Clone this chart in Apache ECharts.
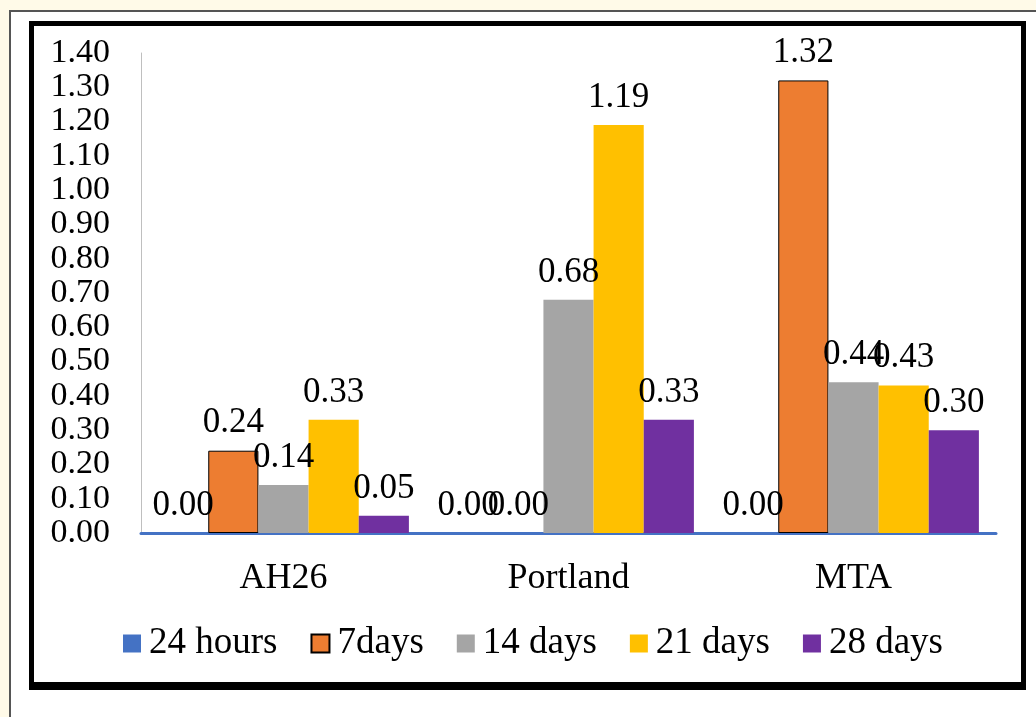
<!DOCTYPE html>
<html>
<head>
<meta charset="utf-8">
<script src="https://cdn.jsdelivr.net/npm/echarts@6/dist/echarts.min.js"></script>
<style>
html,body{margin:0;padding:0;background:#fffae8;}
#chart{width:1036px;height:717px;}
</style>
</head>
<body>
<div id="chart"></div>
<script>
const categories = ['AH26', 'Portland', 'MTA'];
const seriesNames = ['24 hours', '7days', '14 days', '21 days', '28 days'];
const hours24 = [0.00, 0.00, 0.00];
const days7 = [0.24, 0.00, 1.32];
const days14 = [0.14, 0.68, 0.44];
const days21 = [0.33, 1.19, 0.43];
const days28 = [0.05, 0.33, 0.30];
const yTicks = { min: 0, max: 1.4, interval: 0.1 };

const colors = ['#4472C4', '#ED7D31', '#A5A5A5', '#FFC000', '#7030A0'];
const values = [hours24, days7, days14, days21, days28];
const FONT = '"Liberation Serif", "Times New Roman", serif';

const chart = echarts.init(document.getElementById('chart'));
const series = seriesNames.map((name, i) => ({
  name: name,
  type: 'bar',
  data: i === 1
    ? values[i].map(v => ({ value: v, itemStyle: { borderWidth: v === 0 ? 0 : 1 } }))
    : values[i],
  barGap: '0%',
  barCategoryGap: '12%',
  itemStyle: i === 1 ? { color: colors[i], borderColor: '#000', borderWidth: 1 } : { color: colors[i] },
  label: {
    show: true,
    position: 'top',
    distance: 10,
    formatter: p => p.value.toFixed(2),
    fontFamily: FONT,
    fontSize: 35,
    color: '#000'
  },
  emphasis: { disabled: true }
}));

chart.setOption({
  backgroundColor: '#fffae8',
  animation: false,
  textStyle: { fontFamily: FONT },
  graphic: [
    { type: 'rect', z: -10, shape: { x: 10, y: 11, width: 1040, height: 720 }, style: { fill: '#ffffff', stroke: '#555555', lineWidth: 2 } },
    { type: 'rect', shape: { x: 29, y: 21, width: 997, height: 5 }, style: { fill: '#000' } },
    { type: 'rect', shape: { x: 29, y: 21, width: 5, height: 669 }, style: { fill: '#000' } },
    { type: 'rect', shape: { x: 1021, y: 21, width: 5, height: 669 }, style: { fill: '#000' } },
    { type: 'rect', shape: { x: 29, y: 682, width: 997, height: 8 }, style: { fill: '#000' } }
  ],
  grid: { left: 141, right: 40, top: 53, bottom: 184, containLabel: false },
  legend: {
    data: seriesNames,
    left: 118,
    top: 620,
    icon: 'rect',
    itemWidth: 18,
    itemHeight: 18,
    itemGap: 33,
    textStyle: { fontFamily: FONT, fontSize: 37, color: '#000', padding: [0, 0, 0, 3] }
  },
  xAxis: {
    type: 'category',
    data: categories,
    axisLine: { show: true, lineStyle: { color: '#4472C4', width: 3 } },
    axisTick: { show: false },
    axisLabel: { fontFamily: FONT, fontSize: 36, color: '#000', margin: 28, interval: 0 }
  },
  yAxis: {
    type: 'value',
    min: yTicks.min,
    max: yTicks.max,
    interval: yTicks.interval,
    axisLine: { show: true, lineStyle: { color: '#BFBFBF', width: 1 } },
    axisTick: { show: false },
    splitLine: { show: false },
    axisLabel: { fontFamily: FONT, fontSize: 34, color: '#000', margin: 31, showMinLabel: true, showMaxLabel: true, hideOverlap: false, formatter: v => v.toFixed(2) }
  },
  series: series
});
</script>
</body>
</html>
